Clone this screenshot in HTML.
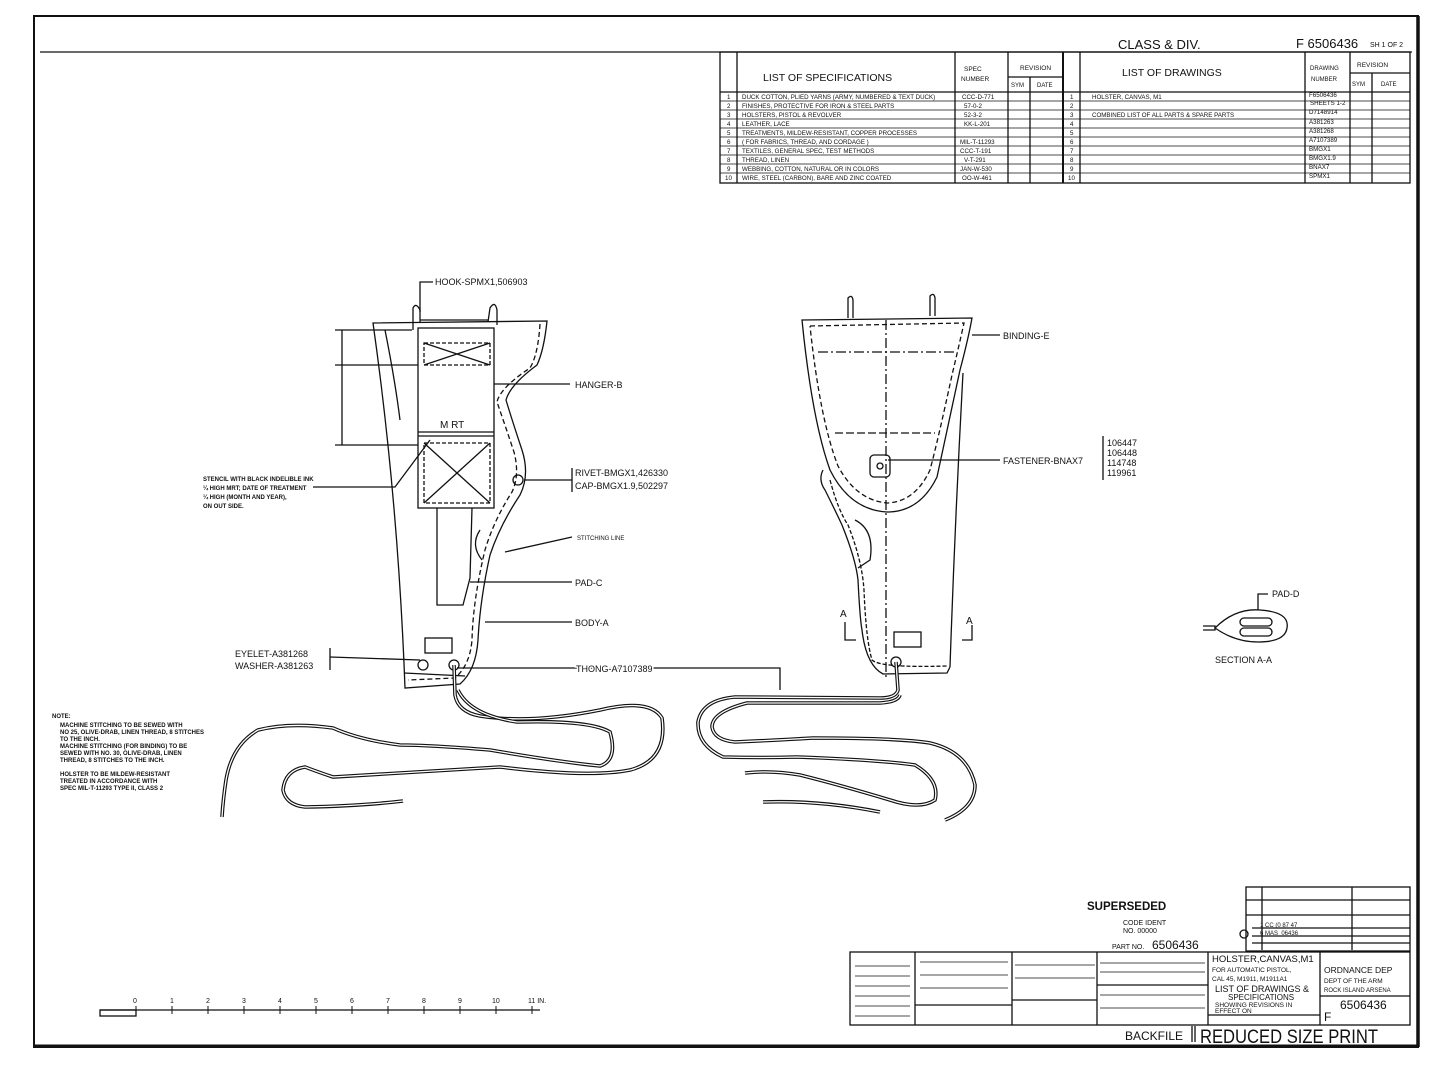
<!DOCTYPE html>
<html><head><meta charset="utf-8"><style>
html,body{margin:0;padding:0;background:#fff}
svg{display:block}
text{font-family:"Liberation Sans",sans-serif;fill:#111}
.th{fill:none;stroke:#111;stroke-width:3.6}
.thw{fill:none;stroke:#fff;stroke-width:1.3}
</style></head><body>
<svg width="1440" height="1070" viewBox="0 0 1440 1070" xmlns="http://www.w3.org/2000/svg">
<g fill="none" stroke="#111" stroke-width="1.3">
<rect x="34" y="16" width="1384" height="1031" stroke-width="2"/>
<line x1="1418" y1="16" x2="1418" y2="1047" stroke-width="3.5"/>
<line x1="34" y1="1046" x2="1418" y2="1046" stroke-width="3"/>
<line x1="40" y1="52" x2="1412" y2="52"/>
<rect x="720" y="52" width="690" height="131"/>
<line x1="737" y1="52" x2="737" y2="183"/><line x1="955" y1="52" x2="955" y2="183"/>
<line x1="1008" y1="52" x2="1008" y2="183"/><line x1="1030" y1="77" x2="1030" y2="183"/>
<line x1="1063" y1="52" x2="1063" y2="183" stroke-width="2"/><line x1="1080" y1="52" x2="1080" y2="183"/>
<line x1="1305" y1="52" x2="1305" y2="183"/><line x1="1350" y1="52" x2="1350" y2="183"/>
<line x1="1372" y1="73" x2="1372" y2="183"/>
<line x1="1008" y1="77" x2="1063" y2="77"/><line x1="1350" y1="73" x2="1410" y2="73"/>
<line x1="720" y1="92" x2="1410" y2="92"/>
<g stroke-width="0.8">
<line x1="720" y1="101" x2="1410" y2="101"/><line x1="720" y1="110" x2="1410" y2="110"/>
<line x1="720" y1="119" x2="1410" y2="119"/><line x1="720" y1="128" x2="1410" y2="128"/>
<line x1="720" y1="137" x2="1410" y2="137"/><line x1="720" y1="146" x2="1410" y2="146"/>
<line x1="720" y1="155" x2="1410" y2="155"/><line x1="720" y1="164" x2="1410" y2="164"/>
<line x1="720" y1="173" x2="1410" y2="173"/>
</g>
<!-- left holster -->
<path d="M373 323 L547 321 Q544 350 537 365 Q510 385 506 400 Q512 420 522 450 Q530 475 520 495 Q500 525 490 555 Q480 600 478 640 Q476 670 460 684 L405 688 Q398 500 373 323 Z"/>
<path d="M540 324 Q538 355 530 368 Q500 388 497 402 Q505 425 514 452 Q520 475 512 492 Q494 520 485 550 Q473 600 472 640 Q470 665 455 678 L408 680" stroke-dasharray="5 3"/>
<path d="M385 330 Q395 380 400 420"/>
<path d="M404 673 L465 676"/>
<rect x="418" y="328" width="76" height="180"/>
<rect x="424" y="343" width="66" height="22" stroke-dasharray="4 2"/>
<path d="M424 343 L490 365 M490 343 L424 365"/>
<line x1="418" y1="432" x2="494" y2="432"/><line x1="418" y1="436" x2="494" y2="436"/>
<rect x="424" y="443" width="66" height="60" stroke-dasharray="4 2"/>
<path d="M424 443 L490 503 M490 443 L424 503"/>
<path d="M437 508 L437 605 L463 605 L470 578 L472 508"/>
<rect x="425" y="638" width="27" height="15"/>
<circle cx="423" cy="665" r="5"/><circle cx="454" cy="665" r="5"/>
<circle cx="518" cy="480" r="5"/>
<path d="M413 330 L413 308 Q416 302 420 310 L420 322 M488 322 L490 308 Q495 300 497 310 L497 325 M420 320 L488 320"/>
<path d="M480 530 Q470 545 482 560"/>
<!-- right holster -->
<path d="M802 320 L972 318 Q968 340 960 370 Q945 440 937 477 Q920 512 887 512 Q850 510 830 470 Q812 420 802 320 Z"/>
<path d="M810 326 L964 323 Q958 350 952 375 Q938 440 930 470 Q915 502 887 503 Q856 500 838 466 Q820 420 810 326" stroke-dasharray="5 3"/>
<path d="M963 373 Q955 520 950 667"/>
<path d="M823 470 Q818 480 825 490 Q835 510 842 525 Q856 560 858 580 Q860 620 862 630 Q866 665 883 674 L947 673 L950 667"/>
<path d="M830 480 Q838 510 848 525 Q862 560 864 590 Q866 640 872 660 Q880 668 947 666" stroke-dasharray="4 2"/>
<rect x="870" y="455" width="20" height="22" rx="4"/><circle cx="880" cy="466" r="3"/>
<line x1="886" y1="320" x2="886" y2="680" stroke-dasharray="10 3 2 3"/>
<line x1="818" y1="352" x2="955" y2="352" stroke-dasharray="10 3 2 3"/>
<line x1="835" y1="433" x2="935" y2="433" stroke-dasharray="8 3"/>
<path d="M848 318 L848 298 Q852 294 853 300 L853 318 M930 316 L930 296 Q934 292 935 298 L935 316"/>
<path d="M855 520 Q875 530 870 560 L858 568"/>
<rect x="894" y="632" width="27" height="15"/>
<circle cx="896" cy="662" r="5"/>
<path d="M845 622 L845 640 L856 640 M972 625 L972 640 L962 640"/>
<!-- section A-A -->
<path d="M1215 628 Q1235 608 1260 610 Q1290 612 1287 628 Q1285 642 1258 642 Q1235 642 1215 628 Z"/>
<rect x="1240" y="618" width="32" height="8" rx="4"/><rect x="1240" y="628" width="32" height="8" rx="4"/>
<path d="M1203 626 L1215 626 L1215 630 L1203 630"/>
<path d="M1258 610 L1258 594 L1268 594"/>
<!-- leaders -->
<path d="M420 312 L420 282 L433 282"/>
<path d="M494 384 L570 384"/>
<path d="M524 480 L572 480"/><path d="M572 468 L572 492"/>
<path d="M505 552 L572 537"/>
<path d="M470 582 L572 582"/>
<path d="M485 622 L572 622"/>
<path d="M330 657 L420 660"/><path d="M330 648 L330 670"/>
<path d="M457 668 L780 668 L780 690"/>
<path d="M972 335 L1000 335"/>
<path d="M888 460 L1000 460"/>
<path d="M1103 436 L1103 480"/>
<path d="M313 487 L395 487 L430 440"/>
<line x1="342" y1="330" x2="342" y2="445"/>
<line x1="335" y1="330" x2="412" y2="330"/>
<line x1="335" y1="365" x2="418" y2="365"/>
<line x1="335" y1="445" x2="418" y2="445"/>
<!-- scale bar -->
<line x1="100" y1="1010" x2="540" y2="1010"/>
<rect x="100" y="1010" width="36" height="6"/>
<g stroke-width="1">
<line x1="136" y1="1006" x2="136" y2="1014"/><line x1="172" y1="1006" x2="172" y2="1014"/><line x1="208" y1="1006" x2="208" y2="1014"/><line x1="244" y1="1006" x2="244" y2="1014"/><line x1="280" y1="1006" x2="280" y2="1014"/><line x1="316" y1="1006" x2="316" y2="1014"/><line x1="352" y1="1006" x2="352" y2="1014"/><line x1="388" y1="1006" x2="388" y2="1014"/><line x1="424" y1="1006" x2="424" y2="1014"/><line x1="460" y1="1006" x2="460" y2="1014"/><line x1="496" y1="1006" x2="496" y2="1014"/><line x1="532" y1="1006" x2="532" y2="1014"/>
</g>
<rect x="1246" y="887" width="164" height="64"/>
<line x1="1246" y1="900" x2="1410" y2="900"/><line x1="1246" y1="915" x2="1410" y2="915"/>
<line x1="1252" y1="928" x2="1410" y2="928"/><line x1="1252" y1="936" x2="1410" y2="936"/><line x1="1252" y1="943" x2="1410" y2="943"/>
<line x1="1262" y1="887" x2="1262" y2="950"/><line x1="1352" y1="887" x2="1352" y2="950"/>
<circle cx="1244" cy="934" r="4"/>
<rect x="850" y="952" width="560" height="73"/>
<line x1="915" y1="952" x2="915" y2="1025"/><line x1="1012" y1="952" x2="1012" y2="1025"/>
<line x1="1097" y1="952" x2="1097" y2="1025"/><line x1="1208" y1="952" x2="1208" y2="1025"/>
<line x1="1320" y1="952" x2="1320" y2="1025"/>
<line x1="1208" y1="1015" x2="1320" y2="1015"/><line x1="1320" y1="996" x2="1410" y2="996"/>
<line x1="915" y1="1005" x2="1012" y2="1005"/><line x1="1012" y1="1000" x2="1097" y2="1000"/>
<line x1="1097" y1="985" x2="1208" y2="985"/>
<g stroke-width="0.7">
<line x1="855" y1="966" x2="910" y2="966"/><line x1="855" y1="976" x2="910" y2="976"/><line x1="855" y1="986" x2="910" y2="986"/><line x1="855" y1="996" x2="910" y2="996"/><line x1="855" y1="1006" x2="910" y2="1006"/><line x1="855" y1="1016" x2="910" y2="1016"/>
<line x1="920" y1="962" x2="1008" y2="962"/><line x1="920" y1="975" x2="1008" y2="975"/><line x1="920" y1="988" x2="1008" y2="988"/>
<line x1="1015" y1="965" x2="1095" y2="965"/><line x1="1015" y1="978" x2="1095" y2="978"/>
<line x1="1100" y1="963" x2="1205" y2="963"/><line x1="1100" y1="972" x2="1205" y2="972"/><line x1="1100" y1="995" x2="1205" y2="995"/><line x1="1100" y1="1008" x2="1205" y2="1008"/>
</g>
<path d="M1195 1026 L1195 1042 M1192 1026 L1192 1042"/>
</g>
<!-- thongs -->
<g>
<path class="th" d="M454 665 L455 695 Q458 712 480 716 Q530 724 600 710 Q650 698 662 718 Q668 760 630 770 Q590 778 500 767 Q420 772 333 777 Q318 772 305 767 Q285 770 283 790 Q286 805 305 807 Q360 806 403 801"/>
<path class="thw" d="M454 665 L455 695 Q458 712 480 716 Q530 724 600 710 Q650 698 662 718 Q668 760 630 770 Q590 778 500 767 Q420 772 333 777 Q318 772 305 767 Q285 770 283 790 Q286 805 305 807 Q360 806 403 801"/>
<path class="th" d="M458 690 Q470 715 517 722 Q590 720 610 732 Q618 760 600 766 Q560 762 490 750 Q430 745 400 745 Q360 740 333 728 Q290 722 258 730 Q232 745 226 780 Q223 800 222 817"/>
<path class="thw" d="M458 690 Q470 715 517 722 Q590 720 610 732 Q618 760 600 766 Q560 762 490 750 Q430 745 400 745 Q360 740 333 728 Q290 722 258 730 Q232 745 226 780 Q223 800 222 817"/>
<path class="th" d="M896 662 L898 690 Q896 698 880 698 L735 697 Q702 700 698 722 Q697 745 723 757 Q760 758 797 757 Q880 760 915 765 Q940 780 935 800 Q920 810 890 800 Q840 785 800 775 Q770 770 745 773"/>
<path class="thw" d="M896 662 L898 690 Q896 698 880 698 L735 697 Q702 700 698 722 Q697 745 723 757 Q760 758 797 757 Q880 760 915 765 Q940 780 935 800 Q920 810 890 800 Q840 785 800 775 Q770 770 745 773"/>
<path class="th" d="M900 695 Q898 702 880 703 L747 703 Q712 712 712 727 Q714 740 735 742 Q780 740 813 738 Q900 738 930 743 Q968 752 975 785 Q975 808 945 820"/>
<path class="thw" d="M900 695 Q898 702 880 703 L747 703 Q712 712 712 727 Q714 740 735 742 Q780 740 813 738 Q900 738 930 743 Q968 752 975 785 Q975 808 945 820"/>
<path class="th" d="M763 802 Q820 800 880 812"/>
<path class="thw" d="M763 802 Q820 800 880 812"/>
</g>
<!-- texts -->
<text x="1118" y="49" font-size="13">CLASS &amp; DIV.</text>
<text x="1296" y="48" font-size="13">F 6506436</text><text x="1370" y="47" font-size="7">SH 1 OF 2</text>
<text x="763" y="81" font-size="10.5">LIST OF SPECIFICATIONS</text>
<text x="964" y="71" font-size="6.5">SPEC</text><text x="961" y="81" font-size="6.5">NUMBER</text>
<text x="1020" y="70" font-size="6.5">REVISION</text><text x="1011" y="87" font-size="6">SYM</text><text x="1037" y="87" font-size="6">DATE</text>
<text x="1122" y="76" font-size="10.5">LIST OF DRAWINGS</text>
<text x="1310" y="70" font-size="6">DRAWING</text><text x="1311" y="81" font-size="6">NUMBER</text>
<text x="1357" y="67" font-size="6.5">REVISION</text><text x="1352" y="86" font-size="6">SYM</text><text x="1381" y="86" font-size="6">DATE</text>
<g font-size="6.2">
<text x="727" y="99">1</text><text x="727" y="108">2</text><text x="727" y="117">3</text><text x="727" y="126">4</text><text x="727" y="135">5</text><text x="727" y="144">6</text><text x="727" y="153">7</text><text x="727" y="162">8</text><text x="727" y="171">9</text><text x="725" y="180">10</text>
<text x="742" y="99">DUCK COTTON, PLIED YARNS (ARMY, NUMBERED &amp; TEXT DUCK)</text>
<text x="742" y="108">FINISHES, PROTECTIVE FOR IRON &amp; STEEL PARTS</text>
<text x="742" y="117">HOLSTERS, PISTOL &amp; REVOLVER</text>
<text x="742" y="126">LEATHER, LACE</text>
<text x="742" y="135">TREATMENTS, MILDEW-RESISTANT, COPPER PROCESSES</text>
<text x="742" y="144">( FOR FABRICS, THREAD, AND CORDAGE )</text>
<text x="742" y="153">TEXTILES, GENERAL SPEC, TEST METHODS</text>
<text x="742" y="162">THREAD, LINEN</text>
<text x="742" y="171">WEBBING, COTTON, NATURAL OR IN COLORS</text>
<text x="742" y="180">WIRE, STEEL (CARBON), BARE AND ZINC COATED</text>
<text x="962" y="99">CCC-D-771</text><text x="964" y="108">57-0-2</text><text x="964" y="117">52-3-2</text><text x="964" y="126">KK-L-201</text><text x="960" y="144">MIL-T-11293</text><text x="960" y="153">CCC-T-191</text><text x="964" y="162">V-T-291</text><text x="960" y="171">JAN-W-530</text><text x="962" y="180">OO-W-461</text>
<text x="1070" y="99">1</text><text x="1070" y="108">2</text><text x="1070" y="117">3</text><text x="1070" y="126">4</text><text x="1070" y="135">5</text><text x="1070" y="144">6</text><text x="1070" y="153">7</text><text x="1070" y="162">8</text><text x="1070" y="171">9</text><text x="1068" y="180">10</text>
<text x="1092" y="99">HOLSTER, CANVAS, M1</text><text x="1092" y="117">COMBINED LIST OF ALL PARTS &amp; SPARE PARTS</text>
<text x="1309" y="97">F6506436</text><text x="1310" y="105">SHEETS 1-2</text><text x="1309" y="114">D7148914</text><text x="1309" y="124">A381263</text><text x="1309" y="133">A381268</text><text x="1309" y="142">A7107389</text><text x="1309" y="151">BMGX1</text><text x="1309" y="160">BMGX1.9</text><text x="1309" y="169">BNAX7</text><text x="1309" y="178">SPMX1</text>
</g>
<g font-size="9">
<text x="435" y="285">HOOK-SPMX1,506903</text>
<text x="575" y="388">HANGER-B</text>
<text x="575" y="476">RIVET-BMGX1,426330</text>
<text x="575" y="489">CAP-BMGX1.9,502297</text>
<text x="577" y="540" font-size="6">STITCHING LINE</text>
<text x="575" y="586">PAD-C</text>
<text x="575" y="626">BODY-A</text>
<text x="235" y="657">EYELET-A381268</text>
<text x="235" y="669">WASHER-A381263</text>
<text x="576" y="672" fill="#111" style="paint-order:stroke" stroke="#fff" stroke-width="3">THONG-A7107389</text>
<text x="1003" y="339">BINDING-E</text>
<text x="1003" y="464">FASTENER-BNAX7</text>
<text x="1107" y="446">106447</text><text x="1107" y="456">106448</text><text x="1107" y="466">114748</text><text x="1107" y="476">119961</text>
<text x="1272" y="597">PAD-D</text>
<text x="1215" y="663">SECTION A-A</text>
<text x="440" y="428" font-size="10">M RT</text>
<text x="840" y="617" font-size="10">A</text><text x="966" y="624" font-size="10">A</text>
</g>
<g font-size="6" font-weight="bold">
<text x="203" y="481">STENCIL WITH BLACK INDELIBLE INK</text>
<text x="203" y="490">¼ HIGH MRT; DATE OF TREATMENT</text>
<text x="203" y="499">¼ HIGH (MONTH AND YEAR),</text>
<text x="203" y="508">ON OUT SIDE.</text>
<text x="52" y="718">NOTE:</text>
<text x="60" y="727">MACHINE STITCHING TO BE SEWED WITH</text>
<text x="60" y="734">NO 25, OLIVE-DRAB, LINEN THREAD, 8 STITCHES</text>
<text x="60" y="741">TO THE INCH.</text>
<text x="60" y="748">MACHINE STITCHING (FOR BINDING) TO BE</text>
<text x="60" y="755">SEWED WITH NO. 30, OLIVE-DRAB, LINEN</text>
<text x="60" y="762">THREAD, 8 STITCHES TO THE INCH.</text>
<text x="60" y="776">HOLSTER TO BE MILDEW-RESISTANT</text>
<text x="60" y="783">TREATED IN ACCORDANCE WITH</text>
<text x="60" y="790">SPEC MIL-T-11293 TYPE II, CLASS 2</text>
</g>
<g font-size="7">
<text x="133" y="1003">0</text><text x="170" y="1003">1</text><text x="206" y="1003">2</text><text x="242" y="1003">3</text><text x="278" y="1003">4</text><text x="314" y="1003">5</text><text x="350" y="1003">6</text><text x="386" y="1003">7</text><text x="422" y="1003">8</text><text x="458" y="1003">9</text><text x="492" y="1003">10</text><text x="528" y="1003">11 IN.</text>
</g>
<text x="1087" y="910" font-size="11.5" font-weight="bold">SUPERSEDED</text>
<text x="1123" y="925" font-size="7">CODE IDENT</text>
<text x="1123" y="933" font-size="7">NO. 00000</text>
<text x="1112" y="949" font-size="7">PART NO.</text><text x="1152" y="949" font-size="12">6506436</text>
<text x="1212" y="962" font-size="9.5">HOLSTER,CANVAS,M1</text>
<text x="1212" y="972" font-size="6.5">FOR AUTOMATIC PISTOL,</text>
<text x="1212" y="981" font-size="6.5">CAL 45, M1911, M1911A1</text>
<text x="1215" y="992" font-size="9">LIST OF DRAWINGS &amp;</text>
<text x="1228" y="1000" font-size="8">SPECIFICATIONS</text>
<text x="1215" y="1007" font-size="6.5">SHOWING REVISIONS IN</text>
<text x="1215" y="1013" font-size="6.5">EFFECT ON</text>
<text x="1324" y="973" font-size="8.5">ORDNANCE DEP</text>
<text x="1324" y="983" font-size="6.5">DEPT OF THE ARM</text>
<text x="1324" y="992" font-size="6">ROCK ISLAND ARSENA</text>
<text x="1340" y="1009" font-size="12">6506436</text>
<text x="1324" y="1021" font-size="12">F</text>
<text x="1125" y="1040" font-size="12">BACKFILE</text>
<text x="1200" y="1043" font-size="19" textLength="178" lengthAdjust="spacingAndGlyphs">REDUCED SIZE PRINT</text>
<text x="1260" y="927" font-size="6">1 CC (0 87 47</text>
<text x="1260" y="935" font-size="6">6  MAS_06436</text>
</svg>
</body></html>
